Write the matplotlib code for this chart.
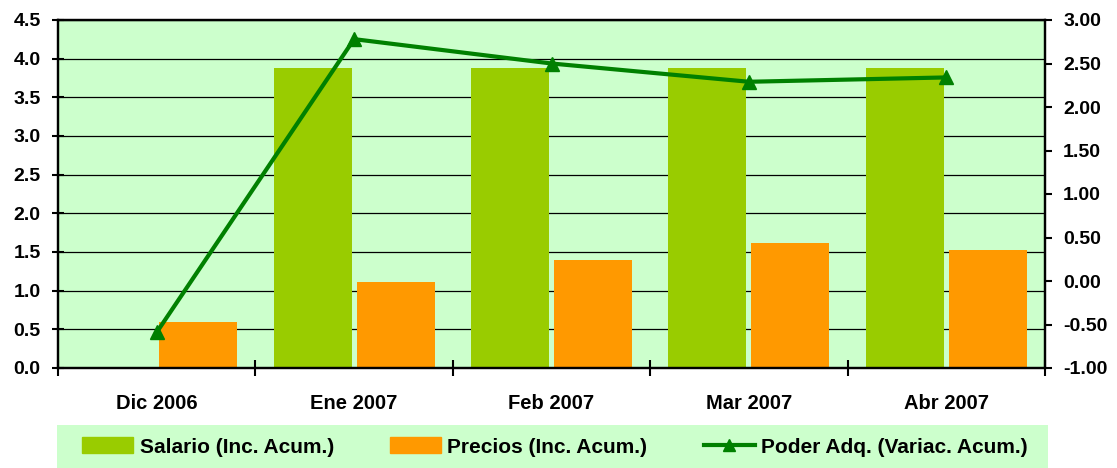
import matplotlib
matplotlib.use("Agg")
import matplotlib.pyplot as plt
import numpy as np
from matplotlib.patches import Rectangle
from matplotlib.lines import Line2D

plt.rcParams['font.family'] = ['Liberation Sans', 'DejaVu Sans']
plt.rcParams['font.weight'] = 'bold'

categories = ["Dic 2006", "Ene 2007", "Feb 2007", "Mar 2007", "Abr 2007"]
salario = [np.nan, 3.88, 3.88, 3.88, 3.88]
precios = [0.60, 1.11, 1.40, 1.61, 1.53]
poder = [-0.59, 2.78, 2.50, 2.29, 2.34]

c_sal = "#99CC00"
c_pre = "#FF9900"
c_pod = "#008000"
bg = "#CCFFCC"

fig = plt.figure(figsize=(11.17, 4.68), dpi=100)
ax = fig.add_axes([58/1117, 1-368/468, (1045-58)/1117, (368-20)/468])
ax.set_facecolor(bg)
x = np.arange(len(categories))
w = 0.395
ax.bar(x - 0.21, salario, w, color=c_sal, zorder=2)
ax.bar(x + 0.21, precios, w, color=c_pre, zorder=2)
ax.set_xlim(-0.5, len(categories) - 0.5)
ax.set_ylim(0, 4.5)
ax.set_yticks(np.arange(0, 4.51, 0.5))
ax.set_yticklabels([f"{v:.1f}" for v in np.arange(0, 4.51, 0.5)])
ax.yaxis.grid(True, color="black", lw=0.9, zorder=1)
ax.set_axisbelow(True)
ax.set_xticks(x)
ax.set_xticklabels(categories)
ax.set_xticks(np.arange(-0.5, len(categories)), minor=True)
ax.tick_params(axis='x', which='major', length=0, pad=19, labelsize=14.5)
ax.tick_params(axis='x', which='minor', direction='inout', length=12, width=1.5)
ax.tick_params(axis='y', direction='inout', length=9, width=1.5, pad=8, labelsize=14)
for s in ax.spines.values():
    s.set_linewidth(1.6)

ax2 = ax.twinx()
ax2.plot(x, poder, color=c_pod, lw=3, marker='^', markersize=10, zorder=5)
ax2.set_ylim(-1, 3)
ax2.set_yticks(np.arange(-1, 3.01, 0.5))
ax2.set_yticklabels([f"{v:.2f}" for v in np.arange(-1, 3.01, 0.5)])
ax2.tick_params(axis='y', direction='out', length=5, width=1.5, pad=8, labelsize=14)
for s in ax2.spines.values():
    s.set_linewidth(1.6)

# legend background
fig.patches.append(Rectangle((57/1117, 0), (1048-57)/1117, (468-425)/468,
                             transform=fig.transFigure, facecolor=bg, edgecolor='none', zorder=0))
handles = [Rectangle((0, 0), 1, 1, color=c_sal),
           Rectangle((0, 0), 1, 1, color=c_pre),
           Line2D([], [], color=c_pod, lw=3, marker='^', markersize=8)]
labels = ["Salario (Inc. Acum.)", "Precios (Inc. Acum.)", "Poder Adq. (Variac. Acum.)"]
fig.legend(handles, labels, loc='center', bbox_to_anchor=(555/1117, 1-447/468), ncol=3,
           frameon=False, fontsize=15, handlelength=2.45, handleheight=0.8,
           handletextpad=0.3, columnspacing=2.7)

fig.savefig("out.png", dpi=100)
